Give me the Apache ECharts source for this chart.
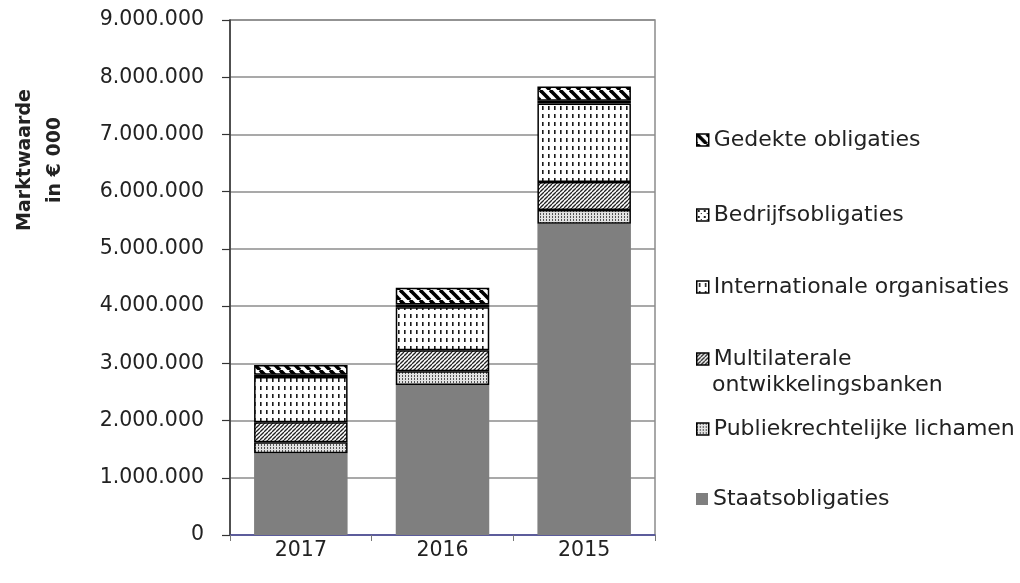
<!DOCTYPE html>
<html>
<head>
<meta charset="utf-8">
<script src="https://cdn.jsdelivr.net/npm/echarts@6/dist/echarts.min.js"></script>
<style>html,body{margin:0;padding:0;background:#fff}#c{width:1020px;height:583px}</style>
</head>
<body>
<div id="c"></div>
<script>
// ---- data (values in € 000) ----
const categories = ['2017', '2016', '2015'];
const staatsobligaties = [1430000, 2620000, 5440000];
const publiekrechtelijk = [190000, 240000, 240000];
const multilateraal = [350000, 370000, 490000];
const internationaal = [790000, 750000, 1370000];
const bedrijfsobligaties = [40000, 50000, 50000];
const gedekteObligaties = [170000, 290000, 250000];
const yTicks = [0, 1000000, 2000000, 3000000, 4000000, 5000000, 6000000, 7000000, 8000000, 9000000];
const seriesNames = ['Staatsobligaties', 'Publiekrechtelijke lichamen', 'Multilaterale ontwikkelingsbanken',
  'Internationale organisaties', 'Bedrijfsobligaties', 'Gedekte obligaties'];

// ---- patterns ----
function tile(w, h, draw) {
  const c = document.createElement('canvas');
  c.width = w; c.height = h;
  const ctx = c.getContext('2d');
  draw(ctx, w, h);
  return { image: c, repeat: 'repeat' };
}
const patGedekte = tile(10, 10, (ctx, w, h) => {
  ctx.fillStyle = '#fff'; ctx.fillRect(0, 0, w, h);
  ctx.strokeStyle = '#000'; ctx.lineWidth = 3.6;
  for (const o of [-10, 0, 10]) { ctx.beginPath(); ctx.moveTo(o, 0); ctx.lineTo(o + 10, 10); ctx.stroke(); }
});
const patMulti = tile(4, 4, (ctx, w, h) => {
  ctx.fillStyle = '#fff'; ctx.fillRect(0, 0, w, h);
  ctx.strokeStyle = '#222'; ctx.lineWidth = 1.3;
  for (const o of [-4, 0, 4]) { ctx.beginPath(); ctx.moveTo(o, 4); ctx.lineTo(o + 4, 0); ctx.stroke(); }
});
const patIntl = tile(6, 8, (ctx, w, h) => {
  ctx.fillStyle = '#fff'; ctx.fillRect(0, 0, w, h);
  ctx.fillStyle = '#1a1a1a'; ctx.fillRect(2, 2, 1.6, 4);
});
const patPubliek = tile(3, 3, (ctx, w, h) => {
  ctx.fillStyle = '#e2e2e2'; ctx.fillRect(0, 0, w, h);
  ctx.fillStyle = '#555'; ctx.fillRect(0, 0, 1, 2);
});
const patBedrijf = tile(6, 6, (ctx, w, h) => {
  ctx.fillStyle = '#fff'; ctx.fillRect(0, 0, w, h);
  ctx.fillStyle = '#222'; ctx.fillRect(1, 1, 2, 2); ctx.fillRect(4, 4, 1, 1);
});

const fontFam = '"DejaVu Sans", sans-serif';
const fmt = v => String(v).replace(/\B(?=(\d{3})+(?!\d))/g, '.');

const fills = [
  { color: '#7f7f7f', borderWidth: 0 },
  { color: patPubliek, borderColor: '#000', borderWidth: 1.5 },
  { color: patMulti, borderColor: '#000', borderWidth: 1.5 },
  { color: patIntl, borderColor: '#000', borderWidth: 1.5 },
  { color: patBedrijf, borderColor: '#000', borderWidth: 1.5 },
  { color: patGedekte, borderColor: '#000', borderWidth: 1.5 }
];
const values = [staatsobligaties, publiekrechtelijk, multilateraal, internationaal, bedrijfsobligaties, gedekteObligaties];

const series = seriesNames.map((n, i) => ({
  name: n, type: 'bar', stack: 'total', barWidth: '66%',
  itemStyle: fills[i], data: values[i], silent: true
}));

// legend centers (y) top-to-bottom
const legendY = { 'Gedekte obligaties': 138, 'Bedrijfsobligaties': 213, 'Internationale organisaties': 285,
  'Multilaterale ontwikkelingsbanken': 357, 'Publiekrechtelijke lichamen': 427, 'Staatsobligaties': 497 };
const legends = seriesNames.map(n => ({
  data: [n], left: 691, top: legendY[n] - 15, orient: 'vertical',
  icon: 'rect', itemWidth: 12, itemHeight: 12, itemGap: 4, selectedMode: false,
  formatter: name => name === 'Multilaterale ontwikkelingsbanken' ? 'Multilaterale' : name,
  textStyle: { fontFamily: fontFam, fontSize: 22, color: '#222', lineHeight: 24 },
  itemStyle: n === 'Staatsobligaties' ? { borderWidth: 0 } : { borderColor: '#000', borderWidth: 1.5 }
}));

const chart = echarts.init(document.getElementById('c'), null, { renderer: 'canvas' });
chart.setOption({
  animation: false,
  backgroundColor: '#fff',
  grid: { left: 230, right: 365, top: 20, bottom: 48, show: true, borderColor: '#8c8c8c', borderWidth: 1.5 },
  legend: legends,
  xAxis: {
    type: 'category', data: categories,
    axisLine: { lineStyle: { color: '#4b4b9e', width: 1.5 } },
    axisTick: { show: true, length: 6, lineStyle: { color: '#777' } },
    axisLabel: { fontFamily: fontFam, fontSize: 20.5, color: '#222', margin: 5 }
  },
  yAxis: {
    type: 'value', min: yTicks[0], max: yTicks[yTicks.length - 1], interval: yTicks[1] - yTicks[0],
    axisLine: { show: true, lineStyle: { color: '#333', width: 1.5 } },
    axisTick: { show: true, length: 8, lineStyle: { color: '#333', width: 1.2 } },
    axisLabel: { fontFamily: fontFam, fontSize: 20.5, color: '#222', margin: 26, formatter: v => fmt(v) },
    splitLine: { lineStyle: { color: '#8c8c8c', width: 1.5 } }
  },
  graphic: [
    { type: 'text', x: 40, y: 160, rotation: Math.PI / 2,
      style: { text: 'Marktwaarde\nin € 000', fontFamily: fontFam, fontWeight: 'bold', fontSize: 19,
        lineHeight: 30, fill: '#222', align: 'center', verticalAlign: 'middle' } },
    { type: 'text', x: 712, y: 385,
      style: { text: 'ontwikkelingsbanken', fontFamily: fontFam, fontSize: 22, fill: '#222',
        align: 'left', verticalAlign: 'middle' } }
  ],
  series: series
});
</script>
</body>
</html>
